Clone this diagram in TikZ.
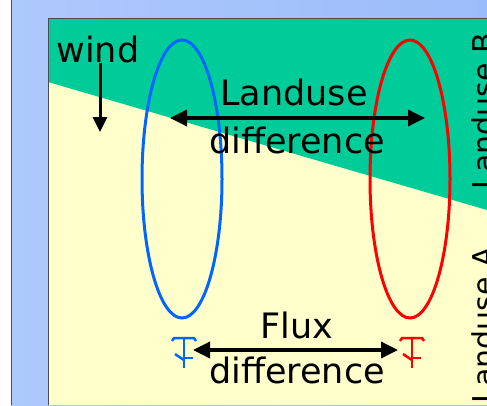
\documentclass[tikz,border=0pt]{standalone}
\usepackage{fontspec}
\setmainfont{DejaVu Sans}
\usetikzlibrary{shapes.geometric, arrows.meta}
\definecolor{slideblue}{RGB}{174,201,252}
\definecolor{slidebluedark}{RGB}{155,188,250}
\definecolor{landgreen}{RGB}{0,204,153}
\definecolor{landyellow}{RGB}{255,255,204}
\definecolor{loopblue}{RGB}{0,102,255}
\definecolor{loopred}{RGB}{255,0,0}

\begin{document}
\begin{tikzpicture}[x=1pt, y=-1pt]
    \tikzstyle{label} = [font=\fontsize{35}{42}\selectfont, inner sep=0pt]
    \tikzstyle{side} = [font=\fontsize{30}{36}\selectfont, inner sep=0pt, rotate=90, anchor=base east]
    \tikzstyle{ring} = [ellipse, line width=3pt, minimum width=80pt, minimum height=278pt]
    \tikzstyle{arrow} = [line width=3.5pt, {Triangle[length=17pt,width=16pt]}-{Triangle[length=17pt,width=16pt]}]
    \tikzstyle{tower} = [line width=2.5pt]

    \useasboundingbox (0,0) rectangle (487,405);
    \clip (0,0) rectangle (487,405);

    % slide background and panel
    \shade[left color=slideblue, right color=slidebluedark] (11,0) rectangle (487,405);
    \draw[gray!60!black] (11.5,0) -- (11.5,405);
    \fill[landyellow] (48,18) rectangle (487,405);
    \fill[landgreen] (48,18) -- (487,18) -- (487,210) -- (48,82) -- cycle;
    \draw[gray!60!black] (48,405) -- (48,18) -- (487,18);

    % wind
    \node[label, anchor=base] (wind) at (98,62) {wind};
    \coordinate (windtip) at (100,132);
    \draw[line width=3pt, -{Triangle[length=15pt,width=14pt]}] (windtip |- wind.south) -- (windtip);

    % footprints
    \node[ring, draw=loopblue] (bluering) at (182,179) {};
    \node[ring, draw=loopred] (redring) at (410,179) {};

    % landuse difference
    \node[label, anchor=base] (landtop) at (294,105) {Landuse};
    \node[label, anchor=base] (landbot) at (297,153) {difference};
    \coordinate (landL) at (170,118);
    \coordinate (landR) at (425,118);
    \draw[arrow] (landL) -- (landR);

    % flux towers
    \foreach \s/\c in {184/loopblue, 412/loopred} {
        \draw[tower, \c] (\s-12,341) -- (\s-10,338) -- (\s+10,338) -- (\s+12,341);
        \draw[tower, \c] (\s,338) -- (\s,368);
        \draw[tower, \c] (\s-9,354) -- (\s,360);
        \draw[tower, \c] (\s,358) -- (\s+9,358);
    }

    % flux difference
    \node[label, anchor=base] (fluxtop) at (297,338) {Flux};
    \node[label, anchor=base] (fluxbot) at (297,383) {difference};
    \coordinate (fluxL) at (193,350);
    \coordinate (fluxR) at (398,350);
    \draw[arrow] (fluxL) -- (fluxR);

    % landuse labels
    \node[side] (landB) at (494,33) {Landuse B};
    \node[side] (landA) at (494,247) {Landuse A};
\end{tikzpicture}
\end{document}
